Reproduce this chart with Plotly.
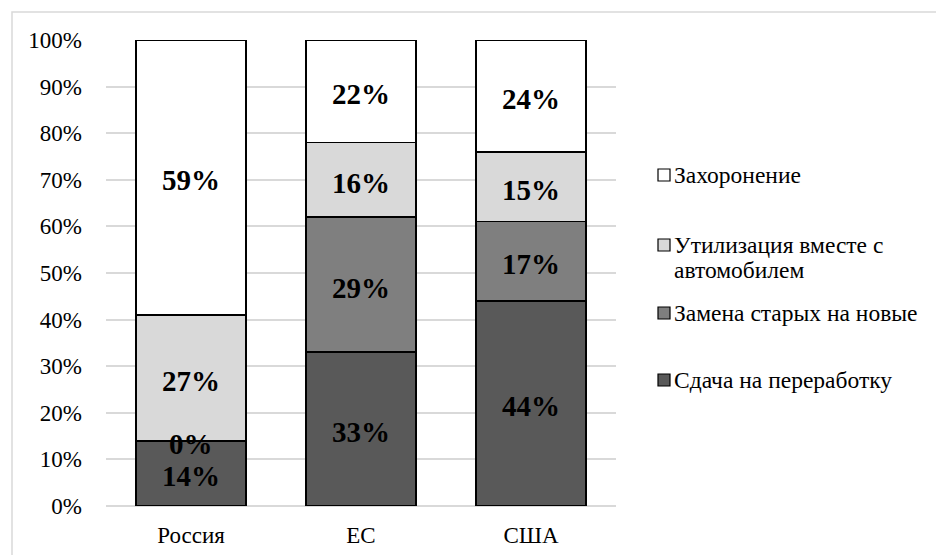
import plotly.graph_objects as go

categories = ["Россия", "ЕС", "США"]
series_names = ["Сдача на переработку", "Замена старых на новые",
                "Утилизация вместе с автомобилем", "Захоронение"]
legend_lines = [["Сдача на переработку"], ["Замена старых на новые"],
                ["Утилизация вместе с", "автомобилем"], ["Захоронение"]]
recycling = [14, 33, 44]
replacement = [0, 29, 17]
with_car = [27, 16, 15]
burial = [59, 22, 24]
series_values = [recycling, replacement, with_car, burial]
colors = ["#595959", "#7f7f7f", "#d9d9d9", "#ffffff"]

FONT = "Liberation Serif"

# plot area in pixels
L, R, T, B = 106, 616, 40, 506
def px(x):
    return (x - L) / (R - L)
def py(y):
    return (B - y) / (B - T)

fig = go.Figure()
for name, vals, col in zip(series_names, series_values, colors):
    fig.add_trace(go.Bar(
        x=categories, y=vals, name=name, marker_color=col,
        marker_line_color="#000000", marker_line_width=1.5, width=0.647,
        showlegend=False,
    ))

# data labels
for i, cat in enumerate(categories):
    base = 0
    for j, vals in enumerate(series_values):
        v = vals[i]
        center = base + v / 2
        fig.add_annotation(x=cat, y=center, text=f"<b>{v}%</b>", showarrow=False,
                           yshift=-3,
                           font=dict(family=FONT, size=29, color="#000000"))
        base += v

# manual legend (top to bottom: reversed order)
legend_rows = [175, 245, 313, 380]
for lines, col, yc in zip(legend_lines[::-1], colors[::-1], legend_rows):
    fig.add_shape(type="rect", xref="paper", yref="paper",
                  x0=px(658), x1=px(670), y0=py(yc + 6), y1=py(yc - 6),
                  line=dict(color="#000000", width=1.2), fillcolor=col)
    for k, line in enumerate(lines):
        fig.add_annotation(xref="paper", yref="paper", x=px(672), y=py(yc + 25 * k),
                           xanchor="left", yanchor="middle", align="left",
                           text=line, showarrow=False,
                           font=dict(family=FONT, size=23.5, color="#000000"))

fig.add_shape(type="rect", xref="paper", yref="paper",
              x0=px(12), x1=px(945), y0=py(565), y1=py(12),
              line=dict(color="#d9d9d9", width=1.5), layer="below")

fig.update_layout(
    barmode="stack",
    width=936, height=555,
    margin=dict(l=L, r=936 - R, t=T, b=555 - B, autoexpand=False),
    plot_bgcolor="white", paper_bgcolor="white",
    font=dict(family=FONT, size=23, color="#000000"),
    showlegend=False,
    xaxis=dict(range=[-0.5, 2.5], showgrid=False, showline=False, ticks="",
               ticklabelstandoff=13),
    yaxis=dict(range=[0, 100], dtick=10, ticksuffix="%", gridcolor="#d9d9d9",
               gridwidth=1.5, zeroline=True, zerolinecolor="#d9d9d9", zerolinewidth=1.5,
               showline=False, ticklabelstandoff=23),
)

fig.write_html("out.html")
